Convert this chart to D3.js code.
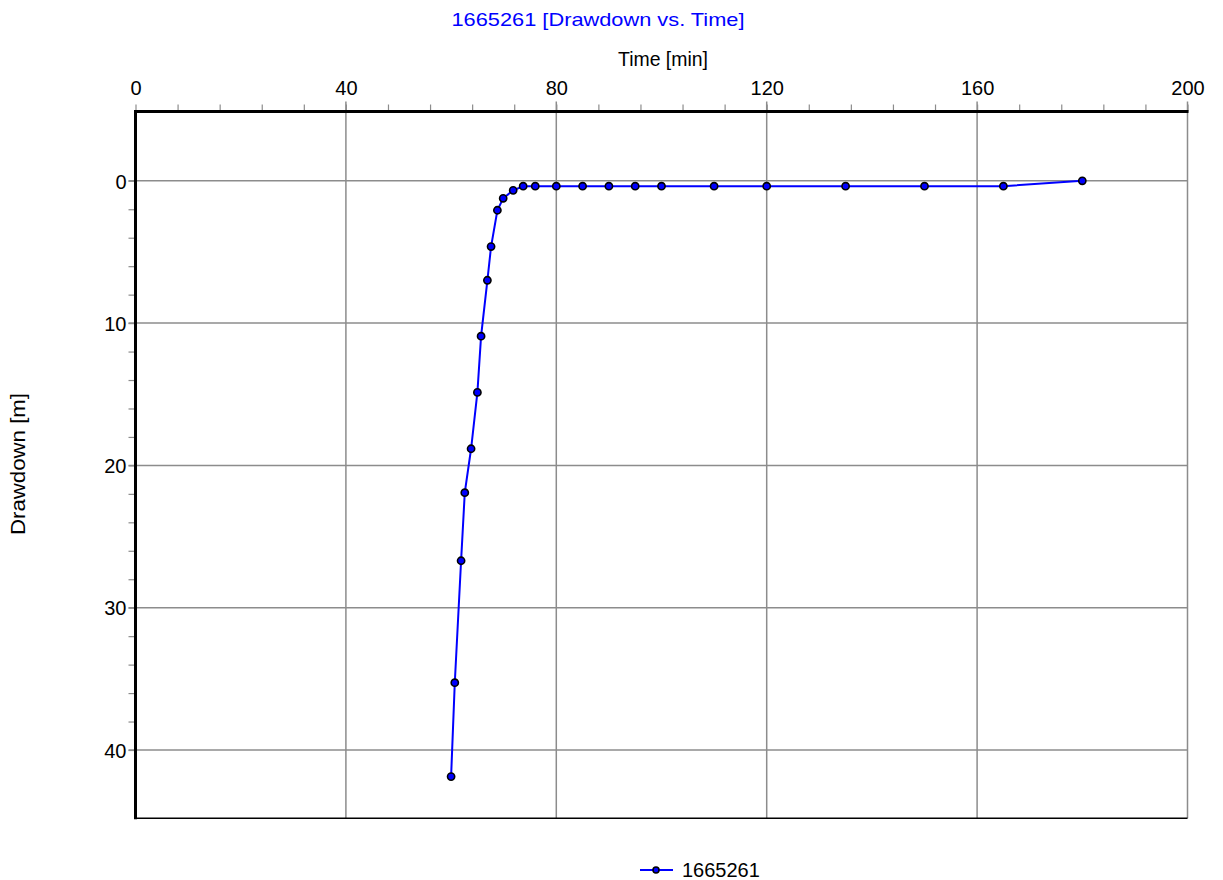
<!DOCTYPE html>
<html>
<head>
<meta charset="utf-8">
<script src="https://cdn.jsdelivr.net/npm/d3@7"></script>
<style>
  html, body { margin: 0; padding: 0; background: #fff; }
  svg { display: block; font-family: "Liberation Sans", Arial, sans-serif; }
</style>
</head>
<body>
<div id="chart"></div>
<script>
// drawdown vs. time — well 1665261
const seriesName = "1665261";
const timeMin = [60, 60.7, 61.9, 62.6, 63.8, 65, 65.7, 66.9, 67.6, 68.8, 69.9, 71.8, 73.7, 76,
  80, 85, 90, 95, 100, 110, 120, 135, 150, 165, 180];
const drawdownM = [41.87, 35.27, 26.7, 21.92, 18.83, 14.87, 10.92, 6.99, 4.62, 2.07, 1.23, 0.67, 0.38, 0.38,
  0.38, 0.38, 0.38, 0.38, 0.38, 0.38, 0.38, 0.38, 0.38, 0.38, 0.0];
const xMajorTicks = [0, 40, 80, 120, 160, 200];
const yMajorTicks = [0, 10, 20, 30, 40];

const width = 1223, height = 880;
const pLeft = 135.5, pRight = 1187.5, pTop = 111.5, pBottom = 818.3;

const svg = d3.select("#chart").append("svg")
  .attr("width", width)
  .attr("height", height);

const x = d3.scaleLinear().domain([0, 200]).range([pLeft, pRight]);
const y = d3.scaleLinear().domain([-4.87, 44.8]).range([pTop, pBottom]);

const grey = "#8c8c8c";

// ── grid ──
const grid = svg.append("g");
grid.selectAll("line.vx")
  .data(xMajorTicks.filter(d => d > 0))
  .join("line")
  .attr("x1", d => x(d)).attr("x2", d => x(d))
  .attr("y1", pTop - 10).attr("y2", pBottom)
  .attr("stroke", grey).attr("stroke-width", 1.5);
grid.selectAll("line.hy")
  .data(yMajorTicks)
  .join("line")
  .attr("x1", pLeft - 7).attr("x2", pRight)
  .attr("y1", d => y(d)).attr("y2", d => y(d))
  .attr("stroke", grey).attr("stroke-width", 1.5);

// ── axes ── (minor every 8 min / 2 m)
const xAxis = d3.axisTop(x)
  .tickValues(d3.range(0, 201, 8))
  .tickSize(7)
  .tickFormat(d => xMajorTicks.includes(d) ? d : "");
const gx = svg.append("g")
  .attr("transform", `translate(0,${pTop})`)
  .call(xAxis);
gx.select(".domain").remove();
gx.selectAll(".tick line").attr("stroke", grey).attr("stroke-width", 1.2);
gx.selectAll(".tick text")
  .attr("y", -17)
  .attr("fill", "#000")
  .style("font-size", "20px");

const yAxis = d3.axisLeft(y)
  .tickValues(d3.range(0, 41, 2))
  .tickSize(7)
  .tickFormat(d => yMajorTicks.includes(d) ? d : "");
const gy = svg.append("g")
  .attr("transform", `translate(${pLeft},0)`)
  .call(yAxis);
gy.select(".domain").remove();
gy.selectAll(".tick line").attr("stroke", grey).attr("stroke-width", 1.2);
gy.selectAll(".tick text")
  .attr("x", -9)
  .attr("dy", "0.36em")
  .attr("fill", "#000")
  .style("font-size", "20px");

// frame: thick top/left, thin bottom
svg.append("line")
  .attr("x1", pLeft - 1.5).attr("x2", pRight + 1)
  .attr("y1", pTop).attr("y2", pTop)
  .attr("stroke", "#000").attr("stroke-width", 3);
svg.append("line")
  .attr("x1", pLeft).attr("x2", pLeft)
  .attr("y1", pTop).attr("y2", pBottom + 1)
  .attr("stroke", "#000").attr("stroke-width", 3);
svg.append("line")
  .attr("x1", pLeft).attr("x2", pRight)
  .attr("y1", pBottom).attr("y2", pBottom)
  .attr("stroke", "#000").attr("stroke-width", 1.5);

// ── series ──
const pts = timeMin.map((t, i) => ({ t, d: drawdownM[i] }));
svg.append("path")
  .datum(pts)
  .attr("fill", "none")
  .attr("stroke", "#0000ff")
  .attr("stroke-width", 2)
  .attr("d", d3.line().x(d => x(d.t)).y(d => y(d.d)));
svg.append("g")
  .selectAll("circle")
  .data(pts)
  .join("circle")
  .attr("cx", d => x(d.t))
  .attr("cy", d => y(d.d))
  .attr("r", 3.6)
  .attr("fill", "#0000ff")
  .attr("stroke", "#000")
  .attr("stroke-width", 1.6);

// ── titles ──
svg.append("text")
  .attr("x", 598).attr("y", 25.5)
  .attr("text-anchor", "middle")
  .attr("fill", "#0000ff")
  .style("font-size", "19px")
  .attr("textLength", 293)
  .attr("lengthAdjust", "spacingAndGlyphs")
  .text("1665261 [Drawdown vs. Time]");

svg.append("text")
  .attr("x", 663).attr("y", 65.5)
  .attr("text-anchor", "middle")
  .attr("fill", "#000")
  .style("font-size", "19.5px")
  .attr("textLength", 90)
  .attr("lengthAdjust", "spacingAndGlyphs")
  .text("Time [min]");

svg.append("text")
  .attr("transform", "translate(25,464) rotate(-90)")
  .attr("text-anchor", "middle")
  .attr("fill", "#000")
  .style("font-size", "19.5px")
  .attr("textLength", 142)
  .attr("lengthAdjust", "spacingAndGlyphs")
  .text("Drawdown [m]");

// ── legend ──
const lg = svg.append("g").attr("transform", "translate(640,870)");
lg.append("line").attr("x1", 0).attr("x2", 33).attr("y1", 0).attr("y2", 0)
  .attr("stroke", "#0000ff").attr("stroke-width", 2);
lg.append("circle").attr("cx", 16).attr("cy", 0).attr("r", 3)
  .attr("fill", "#0000ff").attr("stroke", "#000").attr("stroke-width", 1.5);
lg.append("text").attr("x", 42).attr("y", 6.5)
  .attr("fill", "#000")
  .style("font-size", "20px")
  .text(seriesName);
</script>
</body>
</html>
